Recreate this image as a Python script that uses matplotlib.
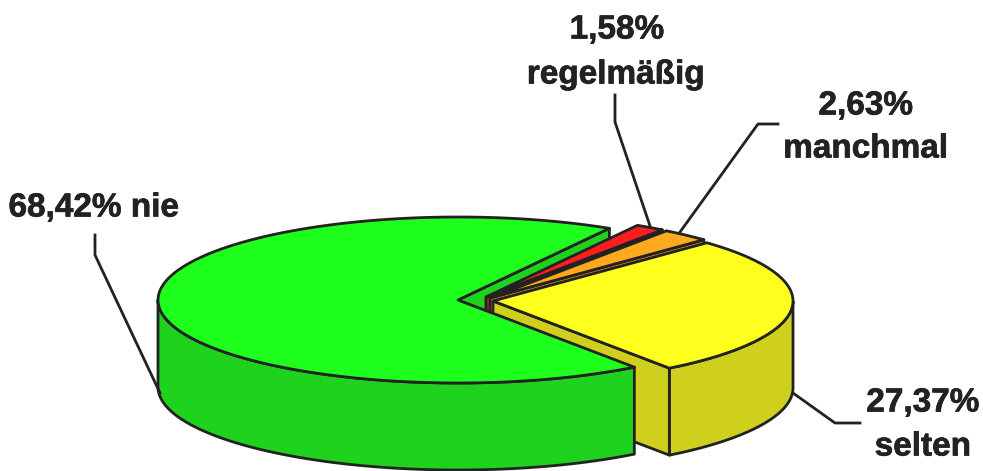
import numpy as np
import matplotlib
matplotlib.use('Agg')
import matplotlib.pyplot as plt
import matplotlib.patheffects as pe
from matplotlib.patches import Polygon

labels = ['selten', 'manchmal', 'regelmäßig', 'nie']
shares = [27.37, 2.63, 1.58, 68.42]
top_colors = ['#FFFF1E', '#FFA91E', '#FF1E1E', '#1EFF1E']
wall_colors = ['#CFCF1E', '#D2881E', '#D21E1E', '#1ED21E']

# apex of every slice (exploded a bit), pixels
apex = [(493, 301), (490, 298), (486, 297), (458, 300)]
rx, ry = 300, 83
depth = 87
start_angle = -54.0
line_col = '#222222'
lw = 2.0

plt.rcParams['font.family'] = ['Liberation Sans']

fig = plt.figure(figsize=(9.83, 4.71), dpi=100)
ax = fig.add_axes([0, 0, 1, 1])
ax.set_xlim(0, 983)
ax.set_ylim(471, 0)
ax.axis('off')


def arc(c, a0, a1):
    t = np.radians(np.linspace(a0, a1, 120))
    return np.column_stack([c[0] + rx * np.cos(t), c[1] - ry * np.sin(t)])


def top(c, a0, a1, color, z):
    pts = np.vstack([[c], arc(c, a0, a1)])
    ax.add_patch(Polygon(pts, closed=True, fc=color, ec=line_col, lw=lw, joinstyle='round', zorder=z))


def side(c, a, color, z):
    # radial wall on the clockwise edge of a slice
    e = arc(c, a, a)[0]
    pts = [c, e, (e[0], e[1] + depth), (c[0], c[1] + depth)]
    ax.add_patch(Polygon(pts, closed=True, fc=color, ec=line_col, lw=lw, joinstyle='round', zorder=z))


def rim(c, a0, a1, color, z):
    # outer wall between two angles
    a = arc(c, a0, a1)
    b = a[::-1] + [0, depth]
    ax.add_patch(Polygon(np.vstack([a, b]), closed=True, fc=color, ec=line_col, lw=lw, joinstyle='round', zorder=z))


# angles of the slices from the shares
edges = start_angle + np.cumsum([0] + [s * 3.6 for s in shares])

# back to front: nie wall, regelmäßig, manchmal, selten, then nie top and rim
side(apex[3], edges[3], wall_colors[3], 1)
side(apex[2], edges[2], wall_colors[2], 2)
top(apex[2], edges[2], edges[3], top_colors[2], 3)
side(apex[1], edges[1], wall_colors[1], 4)
top(apex[1], edges[1], edges[2], top_colors[1], 5)
rim(apex[0], edges[0], 0, wall_colors[0], 6)
side(apex[0], edges[0], wall_colors[0], 7)
top(apex[0], edges[0], edges[1], top_colors[0], 8)
rim(apex[3], 180, edges[4], wall_colors[3], 9)
top(apex[3], edges[3], edges[4], top_colors[3], 10)

# leader lines
leaders = [
    ([95, 95, 160], [235, 255, 393]),
    ([615, 615, 650], [95, 122, 226]),
    ([778, 758, 680], [124, 124, 232]),
    ([860, 835, 793], [423, 423, 393]),
]
for xs, ys in leaders:
    ax.plot(xs, ys, color=line_col, lw=lw, zorder=11)


def pct(v):
    return '{:.2f}%'.format(v).replace('.', ',')


fs = 24
stroke = [pe.withStroke(linewidth=0.5, foreground='#222222')]
txt = dict(fontsize=fs, fontweight='bold', color='#222222', ha='center', va='center', zorder=12, path_effects=stroke)
ax.text(94, 208, pct(shares[3]) + ' ' + labels[3], **txt)
ax.text(617, 30, pct(shares[2]), **txt)
ax.text(616, 75, labels[2], **txt)
ax.text(866, 106, pct(shares[1]), **txt)
ax.text(866, 149, labels[1], **txt)
ax.text(923, 403, pct(shares[0]), **txt)
ax.text(923, 447, labels[0], **txt)

fig.savefig('out.png', dpi=100)
